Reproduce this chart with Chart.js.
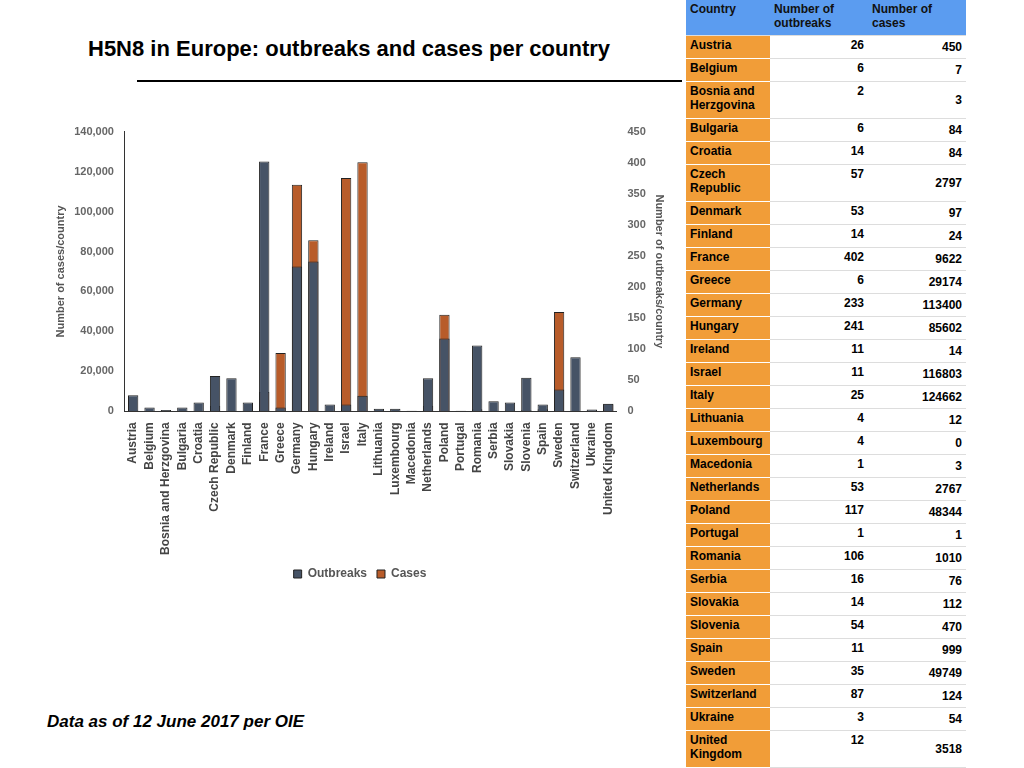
<!DOCTYPE html>
<html>
<head>
<meta charset="utf-8">
<script src="https://cdn.jsdelivr.net/npm/chart.js@4"></script>
<style>
  body { margin: 0; width: 1024px; height: 768px; background: #fff; font-family: "Liberation Sans", Arial, sans-serif; position: relative; overflow: hidden; }
  #title { position: absolute; left: 88px; top: 36px; font-size: 22px; font-weight: bold; color: #000; }
  #rule { position: absolute; left: 137px; top: 80px; width: 545px; height: 2px; background: #000; }
  #note { position: absolute; left: 47px; top: 712px; font-size: 17px; font-weight: bold; font-style: italic; }
  #wrap { position: absolute; left: 50px; top: 122px; width: 620px; height: 468px; }
  table { position: absolute; left: 686px; top: 0; border-collapse: collapse; font-size: 12px; font-weight: bold; }
  td, th { border-bottom: 1px solid #ddd; padding: 2px 4px; height: 18px; }
  th { background: #5b9cf0; color: #111; text-align: left; vertical-align: top; height: 31px; font-weight: bold; }
  td.c { background: #f19d38; border-bottom: 1px solid #fff; width: 76px; }
  td.n { text-align: right; width: 90px; vertical-align: middle; }
  td.o { text-align: right; width: 90px; vertical-align: top; }
  tr.two td { height: 32px; }
  tr.tot td.n, tr.tot td.o { color: #e0502a; }
</style>
</head>
<body>
<div id="title">H5N8 in Europe: outbreaks and cases per country</div>
<div id="rule"></div>
<div id="wrap"><canvas id="c"></canvas></div>
<div id="note">Data as of 12 June 2017 per OIE</div>
<table id="tbl"></table>
<script>
const countries = ['Austria','Belgium','Bosnia and Herzgovina','Bulgaria','Croatia','Czech Republic','Denmark','Finland','France','Greece','Germany','Hungary','Ireland','Israel','Italy','Lithuania','Luxembourg','Macedonia','Netherlands','Poland','Portugal','Romania','Serbia','Slovakia','Slovenia','Spain','Sweden','Switzerland','Ukraine','United Kingdom'];
const tableNames = ['Austria','Belgium','Bosnia and Herzgovina','Bulgaria','Croatia','Czech Republic','Denmark','Finland','France','Greece','Germany','Hungary','Ireland','Israel','Italy','Lithuania','Luxembourg','Macedonia','Netherlands','Poland','Portugal','Romania','Serbia','Slovakia','Slovenia','Spain','Sweden','Switzerland','Ukraine','United Kingdom'];
const outbreaks = [26,6,2,6,14,57,53,14,402,6,233,241,11,11,25,4,4,1,53,117,1,106,16,14,54,11,35,87,3,12];
const cases = [450,7,3,84,84,2797,97,24,9622,29174,113400,85602,14,116803,124662,12,0,3,2767,48344,1,1010,76,112,470,999,49749,124,54,3518];
const totalOutbreaks = 1625;
const totalCases = 590062;

// table
const tbl = document.getElementById('tbl');
let html = '<tr><th style="width:76px">Country</th><th style="width:90px">Number of<br>outbreaks</th><th style="width:90px">Number of<br>cases</th></tr>';
tableNames.forEach((n, i) => {
  const two = /Bosnia|Czech|United/.test(n);
  const label = n === 'Bosnia and Herzgovina' ? 'Bosnia and<br>Herzgovina' : n === 'Czech Republic' ? 'Czech<br>Republic' : n === 'United Kingdom' ? 'United<br>Kingdom' : n;
  html += `<tr class="${two ? 'two' : ''}"><td class="c" style="vertical-align:top">${label}</td><td class="o">${outbreaks[i]}</td><td class="n">${cases[i]}</td></tr>`;
});
html += `<tr class="tot"><td class="c">Total</td><td class="o">${totalOutbreaks}</td><td class="n">${totalCases}</td></tr>`;
tbl.innerHTML = html;

Chart.defaults.font.family = '"Liberation Sans", Arial, sans-serif';
Chart.defaults.font.weight = 'bold';
Chart.defaults.color = '#555';

new Chart(document.getElementById('c'), {
  type: 'bar',
  data: {
    labels: countries,
    datasets: [
      { label: 'Cases', data: cases, yAxisID: 'y', backgroundColor: '#b85c2a', borderColor: '#222', borderWidth: 1, order: 2, barPercentage: 0.7, categoryPercentage: 0.9 },
      { label: 'Outbreaks', data: outbreaks, yAxisID: 'y1', backgroundColor: '#465366', borderColor: '#222', borderWidth: 1, order: 1, barPercentage: 0.7, categoryPercentage: 0.9 }
    ]
  },
  options: {
    responsive: true, maintainAspectRatio: false, animation: false,
    datasets: { bar: { grouped: false } },
    plugins: {
      legend: { position: 'bottom', labels: { boxWidth: 8, boxHeight: 8, color: '#555', font: { size: 12, weight: 'bold' } } },
      tooltip: { enabled: false }
    },
    scales: {
      x: { grid: { display: false }, border: { color: '#333' }, ticks: { minRotation: 90, maxRotation: 90, autoSkip: false, color: '#444', font: { size: 12, weight: 'bold' } } },
      y: { position: 'left', min: 0, max: 140000, grid: { display: false }, border: { color: '#333' },
           ticks: { stepSize: 20000, color: '#666', font: { size: 11, weight: 'bold' } },
           title: { display: true, text: 'Number of cases/country', color: '#555', font: { size: 11, weight: 'bold' } } },
      y1: { position: 'right', min: 0, max: 450, grid: { display: false }, border: { display: false },
           ticks: { stepSize: 50, color: '#666', font: { size: 11, weight: 'bold' } },
           title: { display: true, text: 'Number of outbreaks/country', color: '#555', font: { size: 11, weight: 'bold' } } }
    }
  }
});
</script>
</body>
</html>
